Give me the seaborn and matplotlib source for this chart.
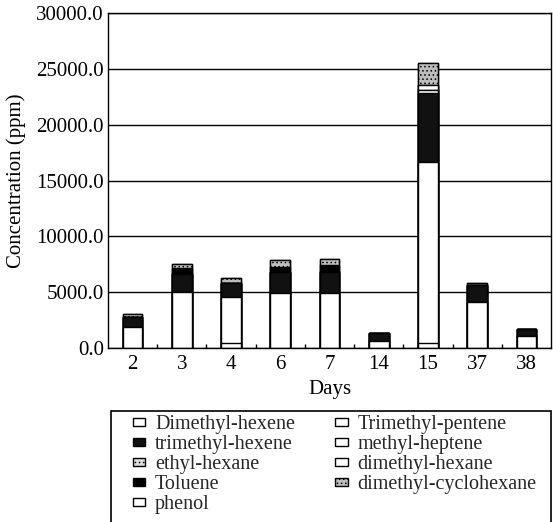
import matplotlib
matplotlib.use("Agg")
import matplotlib.pyplot as plt
from matplotlib.patches import Patch, Rectangle
from matplotlib.ticker import FormatStrFormatter, MultipleLocator, FixedLocator
import seaborn as sns
import pandas as pd
import numpy as np

days = ["2", "3", "4", "6", "7", "14", "15", "37", "38"]
compounds = ["Dimethyl-hexene", "Trimethyl-pentene", "trimethyl-hexene",
             "methyl-heptene", "ethyl-hexane", "dimethyl-hexane",
             "Toluene", "dimethyl-cyclohexane", "phenol"]

dimethyl_hexene      = [1850, 5040,  420, 4950, 4950, 650,   420, 4150, 1070]
trimethyl_pentene    = [0,    0,    4170, 0,    0,    0,   16230, 0,    0]
trimethyl_hexene     = [900,  1580, 1200, 1830, 1880, 660,  6200, 1490, 600]
methyl_heptene       = [50,   0,    0,    0,    0,    0,    250,  0,    0]
ethyl_hexane         = [0,    60,   0,    60,   60,   0,    0,    0,    0]
dimethyl_hexane      = [0,    0,    0,    0,    0,    0,    450,  0,    0]
toluene              = [0,    450,  0,    440,  540,  0,    0,    0,    0]
dimethyl_cyclohexane = [240,  360,  450,  600,  510,  0,   1950,  210,  0]
phenol               = [0,    0,    0,    0,    0,    0,    0,    0,    0]

series = [dimethyl_hexene, trimethyl_pentene, trimethyl_hexene, methyl_heptene,
          ethyl_hexane, dimethyl_hexane, toluene, dimethyl_cyclohexane, phenol]

styles = {
    "Dimethyl-hexene": dict(color="white", hatch=None),
    "Trimethyl-pentene": dict(color="white", hatch=None),
    "trimethyl-hexene": dict(color="#111111", hatch=None),
    "methyl-heptene": dict(color="white", hatch=None),
    "ethyl-hexane": dict(color="#dcdcdc", hatch="...."),
    "dimethyl-hexane": dict(color="white", hatch=None),
    "Toluene": dict(color="black", hatch=None),
    "dimethyl-cyclohexane": dict(color="#bdbdbd", hatch="...."),
    "phenol": dict(color="white", hatch=None),
}

sns.set_theme(style="white")
plt.rcParams["font.family"] = ["Liberation Serif", "DejaVu Serif"]
plt.rcParams["hatch.linewidth"] = 0.6

fig = plt.figure(figsize=(5.53, 5.22), dpi=100)
ax = fig.add_axes([0.1953, 0.3333, 0.8011, 0.6417])

cum = np.cumsum(np.array(series, dtype=float), axis=0)
# draw from top layer down so lower layers overlay the upper cumulative bars
for i in range(len(compounds) - 1, -1, -1):
    name = compounds[i]
    st = styles[name]
    df = pd.DataFrame({"Days": days, "value": cum[i]})
    sns.barplot(data=df, x="Days", y="value", order=days, ax=ax,
                color=st["color"], saturation=1, width=0.4, errorbar=None,
                edgecolor="black", linewidth=1.0, hatch=st["hatch"])

ax.set_ylim(0, 30000)
ax.set_xlim(-0.5, 8.5)
ax.yaxis.set_major_locator(MultipleLocator(5000))
ax.yaxis.set_major_formatter(FormatStrFormatter("%.1f"))
ax.grid(axis="y", color="black", linewidth=1.0)
ax.grid(axis="x", visible=False)
ax.set_axisbelow(True)
for s in ax.spines.values():
    s.set_color("black")
    s.set_linewidth(1.0)

ax.tick_params(axis="both", labelsize=15, colors="black", length=0, pad=3)
ax.tick_params(axis="x", pad=5)
ax.xaxis.set_minor_locator(FixedLocator(np.arange(0.5, 8.5, 1.0)))
ax.tick_params(axis="x", which="minor", direction="in", length=3, width=1,
               color="black", bottom=True)
ax.set_xlabel("Days", fontsize=15, color="black", labelpad=4)
ax.set_ylabel("Concentration (ppm)", fontsize=15, color="black", labelpad=7)

order = [0, 2, 4, 6, 8, 1, 3, 5, 7]
handles = [Patch(facecolor=styles[compounds[k]]["color"], edgecolor="black",
                 hatch=styles[compounds[k]]["hatch"], linewidth=1.0,
                 label=compounds[k]) for k in order]
leg = fig.legend(handles=handles, ncol=2, loc="upper left",
                 bbox_to_anchor=(133 / 553, 1 - 415 / 522), fontsize=14.5,
                 frameon=False,
                 handlelength=0.6, handleheight=0.25, handletextpad=0.5,
                 labelspacing=0.05, columnspacing=2.0, borderpad=0.0,
                 borderaxespad=0)
fig.add_artist(Rectangle((111 / 553, -0.02), 440 / 553, (522 - 411) / 522 + 0.02,
                         transform=fig.transFigure, fill=False,
                         edgecolor="black", linewidth=1.2))

fig.savefig("out.png", dpi=100)
